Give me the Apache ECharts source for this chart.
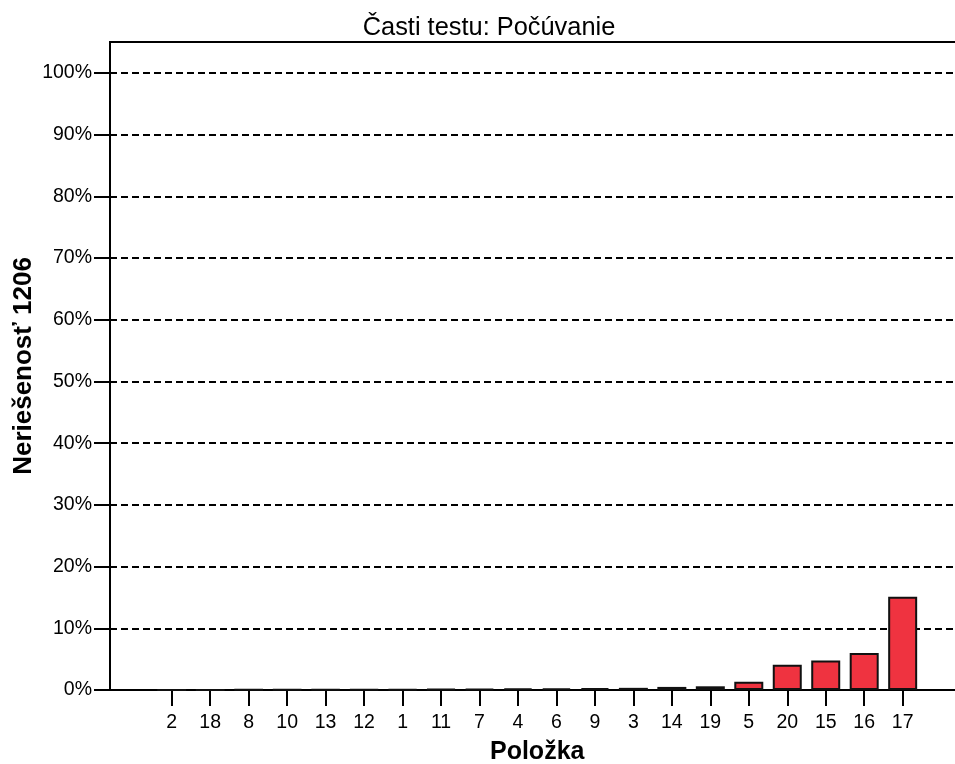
<!DOCTYPE html>
<html>
<head>
<meta charset="utf-8">
<script src="https://cdn.jsdelivr.net/npm/echarts@6/dist/echarts.min.js"></script>
<style>
html,body{margin:0;padding:0;background:#fff;}
#c{width:955px;height:764px;}
</style>
</head>
<body>
<div id="c"></div>
<script>
const categories = ['2','18','8','10','13','12','1','11','7','4','6','9','3','14','19','5','20','15','16','17'];
const values = [0.02,0.03,0.05,0.06,0.08,0.1,0.12,0.15,0.2,0.25,0.25,0.3,0.35,0.5,0.6,1.35,4.1,4.8,6.0,15.1];
const yTicks = [0,10,20,30,40,50,60,70,80,90,100];
const titleText = 'Časti testu: Počúvanie';
const yName = 'Neriešenosť 1206';
const xName = 'Položka';

const FONT = 'Liberation Sans, Arial, sans-serif';
const chart = echarts.init(document.getElementById('c'), null, {renderer:'canvas'});
chart.setOption({
  animation:false,
  title:{text:titleText,left:484,top:10,textAlign:'center',
    textStyle:{fontFamily:FONT,fontWeight:'normal',fontSize:25.4,color:'#000'}},
  grid:[
    {left:110,right:-10,top:42,bottom:74,show:true,borderColor:'#000',borderWidth:2,
      backgroundColor:'transparent',outerBoundsMode:'none',containLabel:false},
    {left:152.5,width:769.4,top:42,bottom:74,outerBoundsMode:'none',containLabel:false}
  ],
  xAxis:[
    {gridIndex:0,type:'value',show:false,min:0,max:1},
    {gridIndex:1,type:'category',data:categories,
      axisLine:{show:false},
      axisTick:{show:true,alignWithLabel:true,length:16,lineStyle:{color:'#000',width:2}},
      axisLabel:{margin:23,fontFamily:FONT,fontSize:19.5,color:'#000',interval:0},
      name:xName,nameLocation:'middle',nameGap:50,nameMoveOverlap:false,
      nameTextStyle:{fontFamily:FONT,fontWeight:'bold',fontSize:25,color:'#000'}}
  ],
  yAxis:[
    {gridIndex:0,type:'value',min:0,max:105,interval:10,
      axisLine:{show:true,lineStyle:{color:'#000',width:2}},
      axisTick:{show:true,length:16,customValues:yTicks,lineStyle:{color:'#000',width:2}},
      axisLabel:{margin:18,fontFamily:FONT,fontSize:19.5,color:'#000',customValues:yTicks,
        formatter:v=>v+'%'},
      splitLine:{show:true,lineStyle:{color:'#000',width:2,type:[7,4]}},
      name:yName,nameLocation:'middle',nameGap:73,nameMoveOverlap:false,
      nameTextStyle:{fontFamily:FONT,fontWeight:'bold',fontSize:26,color:'#000'}},
    {gridIndex:1,type:'value',min:0,max:105,show:false}
  ],
  series:[{
    type:'bar',xAxisIndex:1,yAxisIndex:1,data:values,barWidth:29,
    itemStyle:{color:'#ef3340',borderColor:'#111',borderWidth:2}
  }]
});
</script>
</body>
</html>
